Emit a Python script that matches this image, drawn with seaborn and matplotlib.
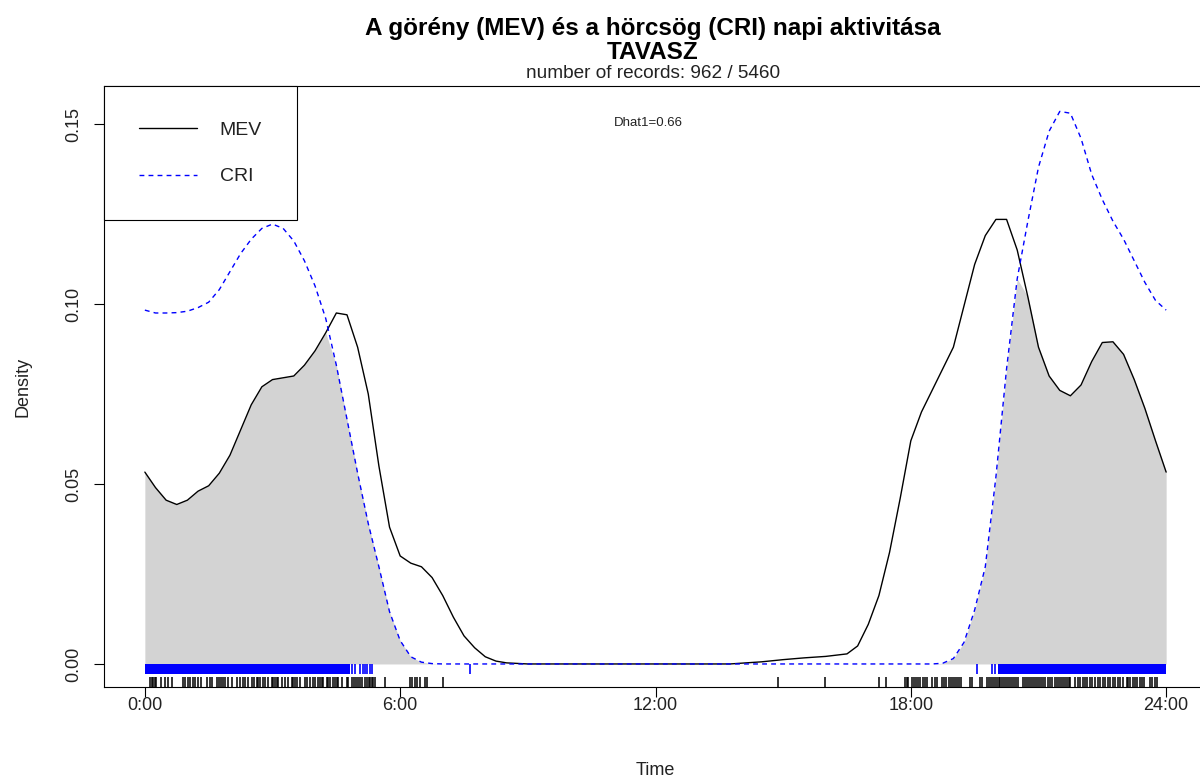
import numpy as np
import pandas as pd
import matplotlib
matplotlib.use("Agg")
import matplotlib.pyplot as plt
import seaborn as sns

# ---------------- data ----------------
hours = [0, 0.25, 0.5, 0.75, 1.0, 1.25, 1.5, 1.75, 2.0, 2.25, 2.5, 2.75, 3.0, 3.25, 3.5, 3.75,
         4.0, 4.25, 4.5, 4.75, 5.0, 5.25, 5.5, 5.75, 6.0, 6.25, 6.5, 6.75, 7.0, 7.25, 7.5, 7.75,
         8.0, 8.25, 8.5, 9.0, 10.0, 11.0, 12.0, 13.0, 13.75, 14.0, 14.5, 15.0, 15.5, 16.0, 16.5,
         16.75, 17.0, 17.25, 17.5, 17.75, 18.0, 18.25, 18.5, 18.75, 19.0, 19.25, 19.5, 19.75,
         20.0, 20.25, 20.5, 20.75, 21.0, 21.25, 21.5, 21.75, 22.0, 22.25, 22.5, 22.75, 23.0,
         23.25, 23.5, 23.75, 24.0]

mev_density = [0.0533, 0.049, 0.0455, 0.0443, 0.0455, 0.048, 0.0495, 0.053, 0.058, 0.065, 0.072,
               0.077, 0.079, 0.0795, 0.080, 0.083, 0.087, 0.092, 0.0975, 0.097, 0.088, 0.075,
               0.055, 0.038, 0.030, 0.028, 0.027, 0.024, 0.019, 0.013, 0.0078, 0.0045, 0.002,
               0.0008, 0.0003, 0.0, 0.0, 0.0, 0.0, 0.0, 0.0, 0.0002, 0.0006, 0.0012, 0.0017,
               0.0021, 0.0028, 0.005, 0.011, 0.019, 0.031, 0.046, 0.062, 0.070, 0.076, 0.082,
               0.088, 0.0995, 0.111, 0.119, 0.1235, 0.1235, 0.115, 0.102, 0.088, 0.080, 0.076,
               0.0745, 0.0775, 0.084, 0.0893, 0.0895, 0.086, 0.079, 0.071, 0.062, 0.0533]

cri_density = [0.0983, 0.0975, 0.0975, 0.0976, 0.098, 0.099, 0.1005, 0.104, 0.109, 0.114, 0.118,
               0.121, 0.1222, 0.121, 0.1175, 0.112, 0.105, 0.096, 0.083, 0.068, 0.053, 0.039,
               0.027, 0.0145, 0.0065, 0.002, 0.0005, 0.0001, 0.0, 0.0, 0.0, 0.0, 0.0, 0.0, 0.0,
               0.0, 0.0, 0.0, 0.0, 0.0, 0.0, 0.0, 0.0, 0.0, 0.0, 0.0, 0.0, 0.0, 0.0, 0.0, 0.0,
               0.0, 0.0, 0.0, 0.0, 0.0002, 0.0015, 0.006, 0.015, 0.027, 0.052, 0.082, 0.107,
               0.123, 0.138, 0.148, 0.1535, 0.153, 0.146, 0.136, 0.129, 0.123, 0.118, 0.112,
               0.106, 0.101, 0.0983]

mev_rug = [0.12, 0.16, 0.2, 0.24, 0.27, 0.39, 0.47, 0.54, 0.63, 0.89, 0.95, 1.01, 1.06, 1.12,
           1.18, 1.25, 1.33, 1.45, 1.53, 1.57, 1.69, 1.74, 1.79, 1.83, 1.88, 1.95, 2.04, 2.16,
           2.23, 2.30, 2.36, 2.42, 2.51, 2.56, 2.63, 2.67, 2.70, 2.77, 2.82, 2.89, 2.99, 3.01,
           3.06, 3.10, 3.13, 3.22, 3.29, 3.36, 3.46, 3.48, 3.53, 3.57, 3.64, 3.76, 3.82, 3.88,
           3.95, 4.0, 4.07, 4.11, 4.16, 4.18, 4.28, 4.30, 4.35, 4.42, 4.47, 4.51, 4.54, 4.63,
           4.75, 4.77, 4.87, 4.91, 4.96, 5.01, 5.05, 5.10, 5.17, 5.22, 5.26, 5.29, 5.34, 5.36,
           5.41, 5.64, 6.23, 6.28, 6.35, 6.39, 6.46, 6.58, 6.63, 7.0,
           14.87, 15.98, 17.25, 17.42,
           17.87, 17.91, 17.94, 18.03, 18.08, 18.12, 18.17, 18.22, 18.29, 18.34, 18.38, 18.5,
           18.57, 18.61, 18.74, 18.78, 18.83, 18.9, 18.95, 18.99, 19.04, 19.09, 19.13, 19.18,
           19.39, 19.44, 19.63, 19.68, 19.79, 19.84, 19.89, 19.93, 19.98, 20.03, 20.08, 20.1,
           20.15, 20.19, 20.24, 20.29, 20.33, 20.38, 20.43, 20.47, 20.52, 20.64, 20.69, 20.73,
           20.78, 20.83, 20.87, 20.92, 20.97, 21.02, 21.06, 21.11, 21.16, 21.23, 21.27, 21.32,
           21.39, 21.44, 21.49, 21.53, 21.58, 21.63, 21.67, 21.72, 21.75, 21.86, 21.93, 21.98,
           22.05, 22.1, 22.14, 22.21, 22.26, 22.33, 22.4, 22.45, 22.52, 22.57, 22.64, 22.68,
           22.75, 22.8, 22.87, 22.92, 22.99, 23.08, 23.11, 23.15, 23.22, 23.27, 23.32, 23.39,
           23.44, 23.48, 23.62, 23.67, 23.74, 23.79]

cri_rug = [4.86, 4.94, 5.05, 5.13, 5.17, 5.22, 5.29, 5.34, 7.64, 19.56, 19.90, 19.98]
cri_rug_span_start = [0.0, 20.06]
cri_rug_span_end = [4.82, 24.0]

x_ticks = [0, 6, 12, 18, 24]
x_tick_labels = ["0:00", "6:00", "12:00", "18:00", "24:00"]
y_ticks = [0.00, 0.05, 0.10, 0.15]
y_tick_labels = ["0.00", "0.05", "0.10", "0.15"]

title_text = "A görény (MEV) és a hörcsög (CRI) napi aktivitása\nTAVASZ"
subtitle_text = "number of records: 962 / 5460"
dhat_text = "Dhat1=0.66"

df = pd.DataFrame({"hour": hours, "MEV": mev_density, "CRI": cri_density})

# ---------------- plot ----------------
sns.set_theme(style="white")
plt.rcParams["font.family"] = ["Liberation Sans", "DejaVu Sans"]

W, H = 1200, 780
fig = plt.figure(figsize=(12, 7.8), dpi=100)
ax = fig.add_axes([104 / W, 1 - 687 / H, (1207 - 104) / W, (687 - 86) / H])

overlap = np.minimum(df["MEV"].to_numpy(), df["CRI"].to_numpy())
ax.fill_between(df["hour"], 0, overlap, color="#D3D3D3", linewidth=0, zorder=1)

sns.lineplot(data=df, x="hour", y="MEV", ax=ax, color="black", linewidth=1.0,
             label="MEV", zorder=3)
sns.lineplot(data=df, x="hour", y="CRI", ax=ax, color="blue", linewidth=1.0,
             label="CRI", zorder=3)
ax.lines[-1].set_linestyle((0, (3.5, 3.0)))

# rugs
for s, e in zip(cri_rug_span_start, cri_rug_span_end):
    ax.fill_between([s, e], -0.0028, 0, color="blue", linewidth=0, zorder=2)
ax.vlines(cri_rug, -0.0028, 0, color="blue", linewidth=1.2, zorder=2)
ax.vlines(mev_rug, -0.0064, -0.0036, color="black", linewidth=1.1, zorder=2)

ax.set_xlim(-0.96, 24.96)
ax.set_ylim(-0.0064, 0.16056)
ax.set_xticks(x_ticks)
ax.set_xticklabels(x_tick_labels)
ax.set_yticks(y_ticks)
ax.set_yticklabels(y_tick_labels, rotation=90, va="center")
ax.tick_params(axis="both", direction="out", length=7, width=0.8, color="black",
               labelsize=13, labelcolor="#222222", bottom=True, left=True)
ax.tick_params(axis="x", pad=0.5)
ax.tick_params(axis="y", pad=9)
for sp in ax.spines.values():
    sp.set_visible(True)
    sp.set_color("black")
    sp.set_linewidth(0.8)

ax.set_xlabel("Time", fontsize=13, color="#222222", labelpad=34.5)
ax.set_ylabel("Density", fontsize=13, color="#222222", labelpad=24)

leg = ax.legend(loc="upper left", bbox_to_anchor=(0, 1), borderaxespad=0,
                frameon=True, fancybox=False, edgecolor="black", framealpha=1,
                fontsize=14, handlelength=3.0, handletextpad=1.15,
                labelspacing=1.5, borderpad=1.8)
leg.get_frame().set_linewidth(0.8)
for t in leg.get_texts():
    t.set_color("#222222")

ax.text((648 - 145) / 42.54, (664 - 123) / 3600, dhat_text, fontsize=9.5,
        ha="center", va="center", color="#222222")

cx = 653 / W
fig.text(cx, 1 - 40.5 / H, title_text, ha="center", va="center", fontsize=17.5,
         fontweight="bold", linespacing=1.08, color="black")
fig.text(cx, 1 - 74 / H, subtitle_text, ha="center", va="center", fontsize=13.7,
         color="#222222")

fig.savefig("out.png", dpi=100)
